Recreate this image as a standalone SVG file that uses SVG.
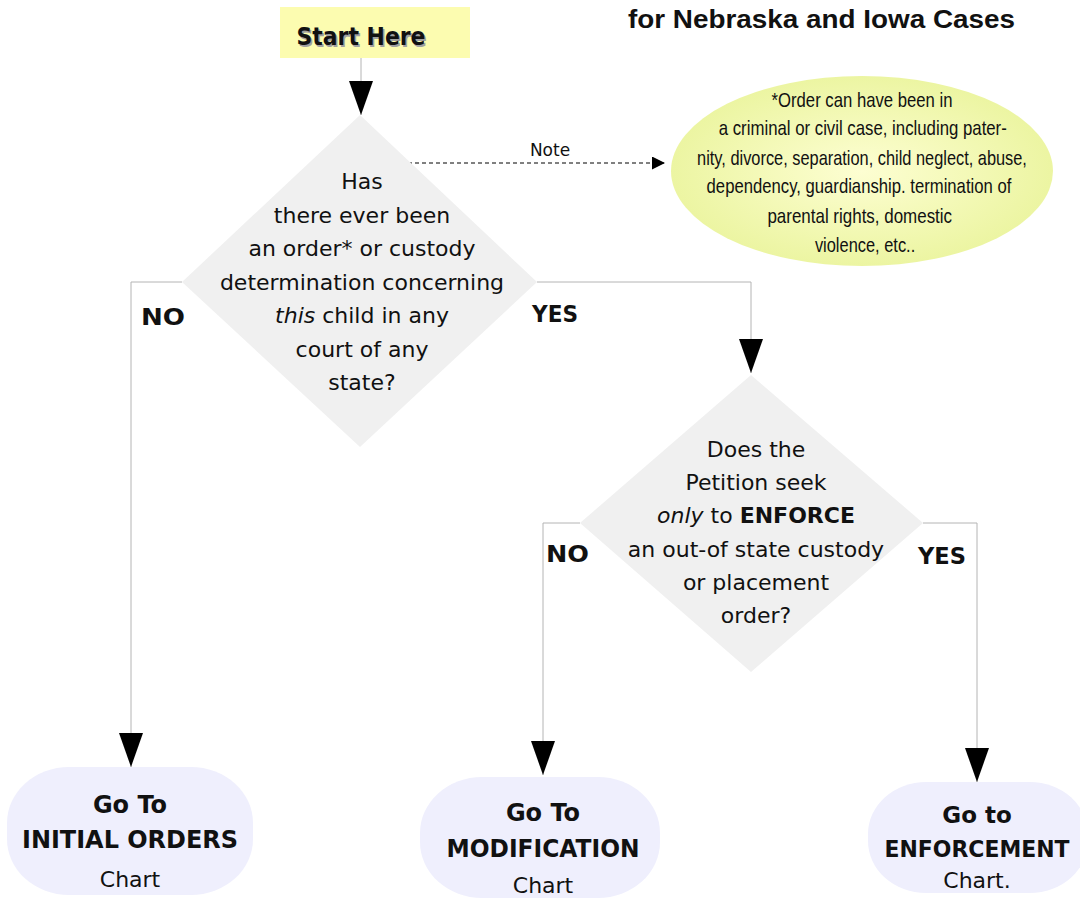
<svg xmlns="http://www.w3.org/2000/svg" width="1080" height="901" viewBox="0 0 1080 901">
<defs>
<style>
.t{font-family:"DejaVu Sans","Liberation Sans",sans-serif;font-size:22px;fill:#111;text-anchor:middle}
.b{font-family:"DejaVu Sans","Liberation Sans",sans-serif;font-weight:bold;fill:#111}
.lbl{font-family:"DejaVu Sans","Liberation Sans",sans-serif;font-weight:bold;font-size:23px;fill:#111}
.cond{font-family:"Liberation Sans","DejaVu Sans",sans-serif;font-size:20px;fill:#111;text-anchor:middle}
.dia{fill:#f0f0f0}
.pill{fill:#efeffd}
.con{fill:none;stroke:#b4b4b4;stroke-width:1}
.mid{text-anchor:middle}
</style>
<marker id="ah" markerUnits="userSpaceOnUse" markerWidth="36" markerHeight="26" refX="34" refY="12" orient="auto" viewBox="0 0 36 26">
<path d="M0,0 L34,12 L0,24 z" fill="#000"/>
</marker>
<marker id="ahs" markerUnits="userSpaceOnUse" markerWidth="14" markerHeight="14" refX="13" refY="6.5" orient="auto" viewBox="0 0 14 14">
<path d="M0,0 L13,6.5 L0,13 z" fill="#000"/>
</marker>
<radialGradient id="yg" cx="0.5" cy="0.5" r="0.5">
<stop offset="0" stop-color="#fdfed2"/>
<stop offset="1" stop-color="#ecf5a2"/>
</radialGradient>
</defs>

<text x="628" y="28" font-family="Liberation Sans, Arial, sans-serif" font-weight="bold" font-size="26" fill="#111" textLength="387" lengthAdjust="spacingAndGlyphs">for Nebraska and Iowa Cases</text>

<g id="connectors">
<path class="con" d="M361,58 V115" marker-end="url(#ah)"/>
<path class="con" d="M182,282 H131 V767" marker-end="url(#ah)"/>
<path class="con" d="M537,282 H751 V373" marker-end="url(#ah)"/>
<path class="con" d="M580,523 H543 V775" marker-end="url(#ah)"/>
<path class="con" d="M923,523 H977 V782" marker-end="url(#ah)"/>
<path d="M408,163 H665" fill="none" stroke="#000" stroke-width="1" stroke-dasharray="4,3" marker-end="url(#ahs)"/>
<text x="550" y="156" font-family="DejaVu Sans, sans-serif" font-size="17" fill="#111" text-anchor="middle">Note</text>
<text class="lbl" x="141" y="325" textLength="44" lengthAdjust="spacingAndGlyphs">NO</text>
<text class="lbl" x="532" y="322" textLength="46" lengthAdjust="spacingAndGlyphs">YES</text>
<text class="lbl" x="546" y="562" textLength="43" lengthAdjust="spacingAndGlyphs">NO</text>
<text class="lbl" x="918" y="564" textLength="48" lengthAdjust="spacingAndGlyphs">YES</text>
</g>

<g id="start">
<rect x="280" y="7" width="190" height="51" fill="#fcfcb0"/>
<text class="b mid" x="362.5" y="46.5" font-size="24" style="fill:#a0a0a0" textLength="129" lengthAdjust="spacingAndGlyphs">Start Here</text>
<text class="b mid" x="361" y="45" font-size="24" textLength="129" lengthAdjust="spacingAndGlyphs">Start Here</text>
</g>

<g id="q1">
<polygon class="dia" points="360,115 537,282 360,447 182,282"/>
<text class="t" x="362" y="189">Has</text>
<text class="t" x="362" y="222.5">there ever been</text>
<text class="t" x="362" y="256">an order* or custody</text>
<text class="t" x="362" y="289.5">determination concerning</text>
<text class="t" x="362" y="323"><tspan font-style="italic">this</tspan> child in any</text>
<text class="t" x="362" y="356.5">court of any</text>
<text class="t" x="362" y="390">state?</text>
</g>

<g id="note">
<ellipse cx="862" cy="171" rx="191" ry="95" fill="url(#yg)"/>
<g transform="translate(862,0) scale(0.76,1)">
<text class="cond" x="0" y="107" textLength="238" lengthAdjust="spacingAndGlyphs">*Order can have been in</text>
<text class="cond" x="1" y="135" textLength="379" lengthAdjust="spacingAndGlyphs">a criminal or civil case, including pater-</text>
<text class="cond" x="0" y="165" textLength="434" lengthAdjust="spacingAndGlyphs">nity, divorce, separation, child neglect, abuse,</text>
<text class="cond" x="-4" y="193" textLength="401" lengthAdjust="spacingAndGlyphs">dependency, guardianship. termination of</text>
<text class="cond" x="-3" y="223" textLength="243" lengthAdjust="spacingAndGlyphs">parental rights, domestic</text>
<text class="cond" x="4" y="252" textLength="132" lengthAdjust="spacingAndGlyphs">violence, etc..</text>
</g>
</g>

<g id="q2">
<polygon class="dia" points="751,375 923,523 751,672 580,523"/>
<text class="t" x="756" y="457">Does the</text>
<text class="t" x="756" y="490">Petition seek</text>
<text class="t" x="756" y="523"><tspan font-style="italic">only</tspan> to <tspan font-weight="bold">ENFORCE</tspan></text>
<text class="t" x="756" y="557">an out-of state custody</text>
<text class="t" x="756" y="590">or placement</text>
<text class="t" x="756" y="623">order?</text>
</g>

<g id="initial">
<rect class="pill" x="7" y="767" width="246" height="128" rx="62" ry="56"/>
<text class="b mid" x="130" y="813" font-size="24">Go To</text>
<text class="b mid" x="130" y="848" font-size="24" textLength="216" lengthAdjust="spacingAndGlyphs">INITIAL ORDERS</text>
<text class="t" x="130" y="887" font-size="25">Chart</text>
</g>

<g id="modification">
<rect class="pill" x="420" y="777" width="240" height="121" rx="62" ry="56"/>
<text class="b mid" x="543" y="821" font-size="24">Go To</text>
<text class="b mid" x="543" y="857" font-size="24" textLength="193" lengthAdjust="spacingAndGlyphs">MODIFICATION</text>
<text class="t" x="543" y="893" font-size="25">Chart</text>
</g>

<g id="enforcement">
<rect class="pill" x="868" y="782" width="220" height="111" rx="58" ry="52"/>
<text class="b mid" x="977" y="823" font-size="23">Go to</text>
<text class="b mid" x="977" y="857" font-size="23" textLength="185" lengthAdjust="spacingAndGlyphs">ENFORCEMENT</text>
<text class="t" x="977" y="888" font-size="24">Chart.</text>
</g>
</svg>
